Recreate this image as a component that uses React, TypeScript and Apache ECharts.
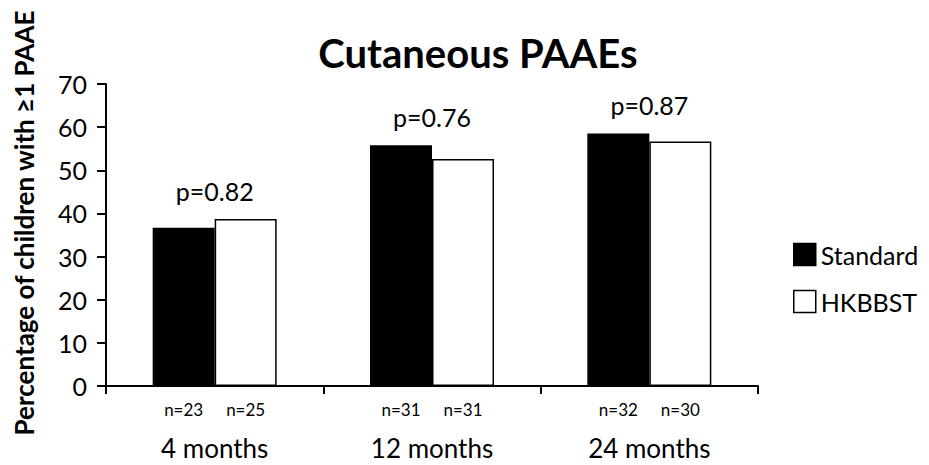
import React, { useEffect, useRef } from "react";
import * as echarts from "echarts";

const categories = ["4 months", "12 months", "24 months"];
const standardValues = [36.7, 55.8, 58.5];
const hkbbstValues = [38.7, 52.6, 56.7];
const standardN = ["n=23", "n=31", "n=32"];
const hkbbstN = ["n=25", "n=31", "n=30"];
const pLabels = ["p=0.82", "p=0.76", "p=0.87"];
const seriesNames = ["Standard", "HKBBST"];
const yTicks = [0, 10, 20, 30, 40, 50, 60, 70];

const FONT = "Lato";

export default function App() {
  const ref = useRef<HTMLDivElement>(null);
  useEffect(() => {
    if (!ref.current) return;
    const chart = echarts.init(ref.current, undefined, { renderer: "svg" });
    const pData = categories.map((_, i) => [i, Math.max(standardValues[i], hkbbstValues[i])]);
    chart.setOption({
      animation: false,
      backgroundColor: "#fff",
      title: {
        text: "Cutaneous PAAEs",
        left: 473,
        top: 28,
        textAlign: "center",
        textStyle: { fontFamily: FONT, fontWeight: "bold", fontSize: 40, color: "#000" },
      },
      grid: { left: 106, right: 171, top: 84, bottom: 79, containLabel: false },
      legend: {
        orient: "vertical",
        left: 788,
        top: 237,
        itemWidth: 22,
        itemHeight: 22,
        itemGap: 22,
        icon: "rect",
        textStyle: { fontFamily: FONT, fontSize: 25, color: "#000" },
        data: [
          { name: seriesNames[0], itemStyle: { color: "#000", borderColor: "#000", borderWidth: 1.5 } },
          { name: seriesNames[1], itemStyle: { color: "#fff", borderColor: "#000", borderWidth: 1.5 } },
        ],
      },
      xAxis: {
        type: "category",
        data: categories,
        boundaryGap: true,
        axisLine: { lineStyle: { color: "#000", width: 2 } },
        axisTick: { show: true, length: 8, lineStyle: { color: "#000", width: 2 } },
        axisLabel: { margin: 49, fontFamily: FONT, fontSize: 26, color: "#000" },
      },
      yAxis: {
        type: "value",
        min: yTicks[0],
        max: yTicks[yTicks.length - 1],
        interval: 10,
        splitLine: { show: false },
        axisLine: { show: true, lineStyle: { color: "#000", width: 2 } },
        axisTick: { show: true, length: 9, lineStyle: { color: "#000", width: 2 } },
        axisLabel: { margin: 19, fontFamily: FONT, fontSize: 25, color: "#000" },
      },
      graphic: [
        {
          type: "text",
          x: 24,
          y: 223,
          rotation: Math.PI / 2,
          style: {
            text: "Percentage of children with ≥1 PAAE",
            font: `bold 26px ${FONT}`,
            fill: "#000",
            textAlign: "center",
            textVerticalAlign: "middle",
          },
        },
      ],
      series: [
        {
          name: seriesNames[0],
          type: "bar",
          data: standardValues,
          barWidth: 62,
          barGap: "0%",
          itemStyle: { color: "#000", borderColor: "#000", borderWidth: 1.5 },
          label: {
            show: true,
            position: "bottom",
            distance: 15,
            formatter: (p: any) => standardN[p.dataIndex],
            fontFamily: FONT,
            fontSize: 17,
            color: "#000",
          },
        },
        {
          name: seriesNames[1],
          type: "bar",
          data: hkbbstValues,
          barWidth: 62,
          barGap: "0%",
          itemStyle: { color: "#fff", borderColor: "#000", borderWidth: 1.5 },
          label: {
            show: true,
            position: "bottom",
            distance: 15,
            formatter: (p: any) => hkbbstN[p.dataIndex],
            fontFamily: FONT,
            fontSize: 17,
            color: "#000",
          },
        },
        {
          name: "p",
          type: "custom",
          data: pData,
          silent: true,
          renderItem: (params: any, api: any) => {
            const idx = api.value(0);
            const pt = api.coord([idx, api.value(1)]);
            return {
              type: "text",
              x: pt[0],
              y: pt[1] - 16,
              style: {
                text: pLabels[idx],
                font: `25px ${FONT}`,
                fill: "#000",
                textAlign: "center",
                textVerticalAlign: "bottom",
              },
            };
          },
        },
      ],
    });
    return () => chart.dispose();
  }, []);
  return (
    <div
      ref={ref}
      style={{ position: "fixed", left: 0, top: 0, width: 929, height: 465, background: "#fff" }}
    />
  );
}
